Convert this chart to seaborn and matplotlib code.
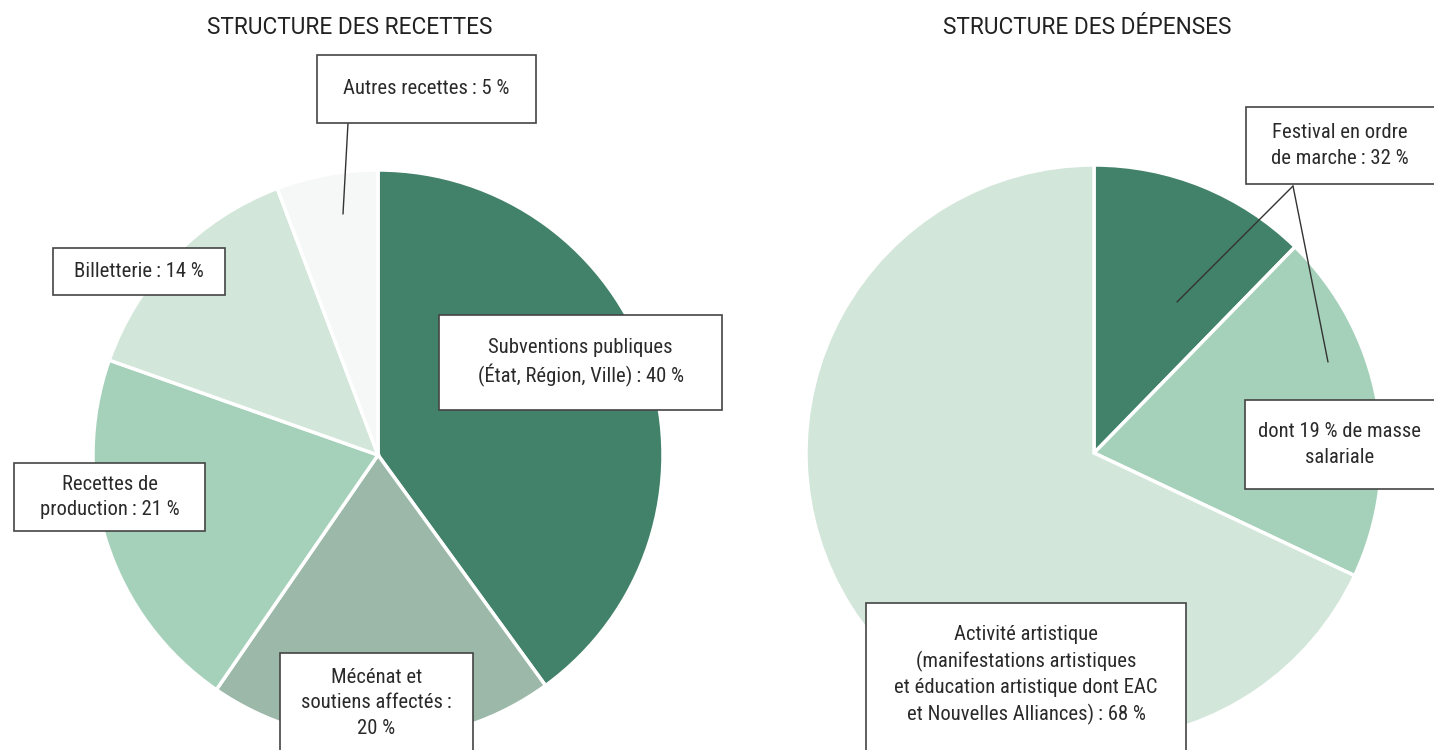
import numpy as np
import seaborn as sns
import matplotlib.pyplot as plt
from matplotlib.patches import Rectangle
from matplotlib import font_manager

# Data (shares)
recettes_labels = ['Subventions publiques', 'Mécénat et soutiens affectés',
                   'Recettes de production', 'Billetterie', 'Autres recettes']
recettes_values = [40, 19.6, 20.8, 13.85, 5.75]
recettes_colors = ['#43826a', '#9cb8a8', '#a5d1ba', '#d2e6da', '#f5f8f6']

depenses_labels = ['Festival (hors masse salariale)', 'Masse salariale', 'Activité artistique']
depenses_values = [12.3, 19.7, 68]
depenses_colors = ['#43826a', '#a5d1ba', '#d2e6da']

recettes_texts = [
    'Subventions publiques\n(État, Région, Ville)\u2009: 40 %',
    'Mécénat et\nsoutiens affectés\u2009:\n20 %',
    'Recettes de\nproduction\u2009: 21 %',
    'Billetterie\u2009: 14 %',
    'Autres recettes\u2009: 5 %',
]
depenses_texts = [
    'Festival en ordre\nde marche\u2009: 32 %',
    'dont 19 % de masse\nsalariale',
    'Activité artistique\n(manifestations artistiques\net éducation artistique dont EAC\net Nouvelles Alliances)\u2009: 68 %',
]

sns.set_theme(style='white')
names = {f.name for f in font_manager.fontManager.ttflist}
family = [f for f in ['Roboto Condensed', 'Liberation Sans Narrow', 'Roboto', 'DejaVu Sans'] if f in names]
title_family = [f for f in ['Roboto', 'DejaVu Sans'] if f in names]
plt.rcParams['font.family'] = family

W, H = 1434, 750
fig = plt.figure(figsize=(W / 100, H / 100), dpi=100)
ax = fig.add_axes([0, 0, 1, 1])


def py(y):
    # pixel row (from top) to data y
    return H - y


wp = dict(edgecolor='white', linewidth=2.5)
ax.pie(recettes_values, colors=recettes_colors, startangle=90, counterclock=False,
       center=(378, py(455)), radius=285, wedgeprops=wp, frame=True)
ax.pie(depenses_values, colors=depenses_colors, startangle=90, counterclock=False,
       center=(1094, py(453)), radius=288, wedgeprops=wp, frame=True)
ax.set_xlim(0, W)
ax.set_ylim(0, H)
ax.set_aspect('equal')
ax.axis('off')

ax.text(350, py(27), 'STRUCTURE DES RECETTES', ha='center', va='center',
        fontsize=16.3, color='#222222', family=title_family)
ax.text(1087, py(27), 'STRUCTURE DES DÉPENSES', ha='center', va='center',
        fontsize=16.3, color='#222222', family=title_family)

# leader lines
ax.plot([348, 343], [py(123), py(214)], color='#333333', lw=1)
ax.plot([1293, 1177], [py(186), py(302)], color='#333333', lw=1)
ax.plot([1293, 1328], [py(186), py(362)], color='#333333', lw=1)

# label boxes (x0, y0, x1, y1 in pixels from top-left)
boxes_recettes = [(439, 315, 722, 410), (280, 653, 473, 770),
                  (14, 463, 205, 531), (53, 248, 225, 295), (317, 55, 536, 123)]
boxes_depenses = [(1246, 107, 1440, 184), (1245, 400, 1440, 489), (866, 603, 1186, 770)]
text_pos_mecenat = 703
text_pos_activite = 675


def label_box(box, text, ty=None):
    x0, y0, x1, y1 = box
    ax.add_patch(Rectangle((x0, py(y1)), x1 - x0, y1 - y0, facecolor='white',
                           edgecolor='#444444', lw=1.2, zorder=5))
    cx = (x0 + min(x1, W)) / 2
    cy = (y0 + y1) / 2 if ty is None else ty
    ax.text(cx, py(cy), text, ha='center', va='center', fontsize=14.9,
            linespacing=1.42, color='#2a2a2a', zorder=6)


for i, (b, t) in enumerate(zip(boxes_recettes, recettes_texts)):
    label_box(b, t, text_pos_mecenat if i == 1 else None)
for i, (b, t) in enumerate(zip(boxes_depenses, depenses_texts)):
    label_box(b, t, text_pos_activite if i == 2 else None)

fig.savefig('out.png', dpi=100, facecolor='white')
